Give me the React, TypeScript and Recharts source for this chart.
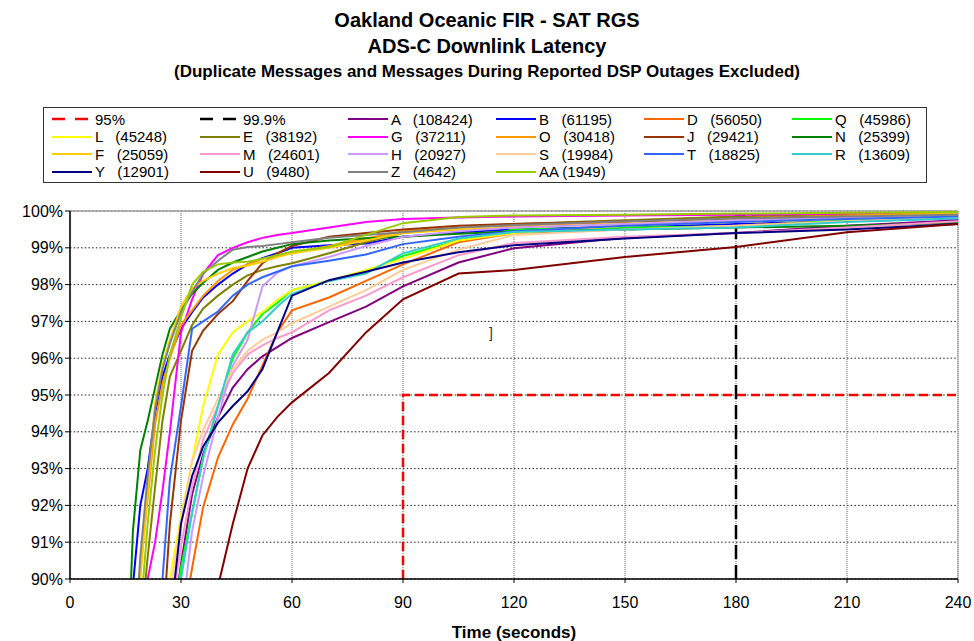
import {
  LineChart,
  Line,
  XAxis,
  YAxis,
  CartesianGrid,
  ReferenceLine,
  ReferenceDot,
} from "recharts";

// Latency in seconds at which each cumulative percentage is read
const TIMES = [15, 17, 19, 21, 23, 25, 27, 30, 33, 36, 40, 44, 48, 52, 56, 60, 70, 80, 90, 105, 120, 150, 180, 210, 240];

// Cumulative % of messages delivered, per ground station
const A = [78, 80, 82, 83.5, 85, 86.5, 88.2, 90.4, 92.3, 93.4, 94.4, 95.2, 95.7, 96.05, 96.3, 96.55, 96.98, 97.4, 97.95, 98.6, 98.99, 99.27, 99.4, 99.6, 99.75];
const B = [84, 89.8, 92.0, 93.0, 94.5, 95.5, 96.1, 96.8, 97.25, 97.65, 98.0, 98.3, 98.55, 98.72, 98.85, 99.0, 99.07, 99.12, 99.3, 99.42, 99.5, 99.58, 99.65, 99.72, 99.8];
const D = [75, 77, 79, 81, 82.5, 84, 85.5, 88.5, 90.3, 91.96, 93.3, 94.2, 94.9, 95.8, 96.7, 97.3, 97.65, 98.1, 98.55, 99.15, 99.4, 99.5, 99.6, 99.75, 99.85];
const Q = [78, 80, 82, 83.5, 85, 86.5, 88.3, 90.3, 91.8, 93.3, 94.7, 96.0, 96.7, 97.2, 97.5, 97.85, 98.1, 98.35, 98.78, 99.2, 99.5, 99.55, 99.58, 99.75, 99.82];
const L = [80, 82, 84, 85.5, 87, 88.5, 90.0, 91.7, 93.2, 94.7, 96.1, 96.7, 97.0, 97.25, 97.58, 97.85, 98.1, 98.4, 98.7, 99.2, 99.4, 99.6, 99.7, 99.78, 99.85];
const E = [82, 85.5, 88.5, 90.6, 92.5, 94.3, 95.5, 96.2, 96.9, 97.35, 97.7, 98.0, 98.25, 98.4, 98.5, 98.58, 98.85, 99.15, 99.4, 99.55, 99.65, 99.75, 99.85, 99.9, 99.95];
const G = [84, 86.5, 88.5, 90.0, 91.0, 92.4, 94.0, 96.7, 97.6, 98.3, 98.8, 99.0, 99.15, 99.27, 99.35, 99.4, 99.55, 99.7, 99.78, 99.82, 99.85, 99.88, 99.9, 99.93, 99.95];
const O = [84, 87.5, 90.2, 92.2, 94.2, 95.3, 96.0, 96.9, 97.3, 97.7, 98.1, 98.4, 98.55, 98.7, 98.8, 98.85, 99.05, 99.25, 99.45, 99.55, 99.6, 99.7, 99.8, 99.88, 99.95];
const J = [74, 77, 80, 83, 85.5, 88.5, 91.5, 94.3, 96.2, 96.75, 97.2, 97.55, 98.1, 98.58, 98.85, 99.05, 99.3, 99.4, 99.5, 99.6, 99.65, 99.72, 99.8, 99.85, 99.9];
const N = [86, 91.3, 93.5, 94.3, 95.2, 96.1, 96.8, 97.3, 97.75, 98.05, 98.4, 98.6, 98.75, 98.9, 99.0, 99.1, 99.2, 99.26, 99.3, 99.38, 99.45, 99.5, 99.55, 99.6, 99.68];
const F = [84, 87.2, 90.0, 92.4, 94.8, 95.8, 96.5, 97.4, 97.9, 98.1, 98.3, 98.45, 98.52, 98.62, 98.75, 98.85, 99.0, 99.2, 99.4, 99.5, 99.55, 99.65, 99.75, 99.85, 99.92];
const M = [77, 79, 81, 83, 84.5, 86, 88.8, 90.9, 92.5, 93.8, 94.7, 95.6, 96.1, 96.35, 96.55, 96.7, 97.3, 97.7, 98.2, 98.8, 99.13, 99.3, 99.4, 99.55, 99.72];
const H = [74, 76, 78, 80, 82, 84, 86, 88.8, 91.3, 92.8, 94.4, 95.8, 96.5, 97.95, 98.32, 98.5, 98.75, 99.05, 99.3, 99.45, 99.55, 99.65, 99.75, 99.82, 99.9];
const S = [78, 80, 82, 84, 85.5, 87, 89.6, 91.6, 93.2, 94.05, 94.9, 95.7, 96.2, 96.5, 96.7, 96.95, 97.4, 97.85, 98.4, 98.95, 99.35, 99.5, 99.6, 99.72, 99.85];
const T = [76, 79, 82, 84.5, 87.5, 90.0, 92.7, 94.7, 96.8, 97.0, 97.27, 97.7, 98.0, 98.2, 98.35, 98.5, 98.65, 98.82, 99.1, 99.3, 99.45, 99.6, 99.7, 99.78, 99.85];
const R = [77, 79, 81, 82.5, 84, 86, 87.8, 90.0, 91.8, 93.3, 94.7, 96.1, 96.7, 97.0, 97.4, 97.75, 98.1, 98.3, 98.85, 99.25, 99.43, 99.5, 99.55, 99.7, 99.8];
const Y = [76, 78, 80, 82, 84, 86, 88.8, 91.5, 92.8, 93.6, 94.25, 94.7, 95.1, 95.7, 96.7, 97.7, 98.12, 98.35, 98.6, 98.88, 99.07, 99.25, 99.4, 99.5, 99.65];
const U = [68, 70, 72, 74, 76, 78, 80, 82.5, 85, 87.5, 89.8, 91.5, 93.0, 93.9, 94.4, 94.8, 95.6, 96.7, 97.6, 98.3, 98.4, 98.75, 99.02, 99.42, 99.65];
const Z = [83, 87.5, 90.6, 92.8, 94.6, 95.7, 96.4, 97.25, 97.8, 98.3, 98.65, 98.95, 99.02, 99.05, 99.1, 99.15, 99.27, 99.35, 99.42, 99.55, 99.62, 99.72, 99.8, 99.85, 99.9];
const AA = [83, 86, 89, 91.5, 93.5, 95.0, 96.1, 97.1, 98.0, 98.35, 98.55, 98.6, 98.62, 98.7, 98.8, 98.9, 99.02, 99.35, 99.67, 99.84, 99.88, 99.9, 99.93, 99.95, 99.97];

const X_TICKS = [0, 30, 60, 90, 120, 150, 180, 210, 240];
const Y_TICKS = [90, 91, 92, 93, 94, 95, 96, 97, 98, 99, 100];

// 95% within 90 s and 99.9% within 180 s requirement steps
const REQ_95 = [
  { t: 90, v: 90 },
  { t: 90, v: 95 },
  { t: 240, v: 95 },
];
const REQ_999 = [
  { t: 180, v: 90 },
  { t: 180, v: 99.9 },
  { t: 240, v: 99.9 },
];

const SERIES = [
  { key: "A", count: 108424, color: "#800080", values: A },
  { key: "B", count: 61195, color: "#0000FF", values: B },
  { key: "D", count: 56050, color: "#FF6600", values: D },
  { key: "Q", count: 45986, color: "#00FF00", values: Q },
  { key: "L", count: 45248, color: "#FFFF00", values: L },
  { key: "E", count: 38192, color: "#808000", values: E },
  { key: "G", count: 37211, color: "#FF00FF", values: G },
  { key: "O", count: 30418, color: "#FF9900", values: O },
  { key: "J", count: 29421, color: "#993300", values: J },
  { key: "N", count: 25399, color: "#008000", values: N },
  { key: "F", count: 25059, color: "#FFCC00", values: F },
  { key: "M", count: 24601, color: "#FF99CC", values: M },
  { key: "H", count: 20927, color: "#CC99FF", values: H },
  { key: "S", count: 19984, color: "#FFCC99", values: S },
  { key: "T", count: 18825, color: "#3366FF", values: T },
  { key: "R", count: 13609, color: "#33CCCC", values: R },
  { key: "Y", count: 12901, color: "#000080", values: Y },
  { key: "U", count: 9480, color: "#800000", values: U },
  { key: "Z", count: 4642, color: "#808080", values: Z },
  { key: "AA", count: 1949, color: "#99CC00", values: AA },
];

const rows = TIMES.map((t, i) => {
  const row: Record<string, number> = { t };
  SERIES.forEach((s) => {
    row[s.key] = s.values[i];
  });
  return row;
});

const FONT = '"Liberation Sans", Arial, sans-serif';

function LegendBox() {
  const entries = [
    { label: "95%", color: "#FF0000", dash: "13 10" },
    { label: "99.9%", color: "#000000", dash: "13 10" },
    ...SERIES.map((s) => ({
      label: `${s.key}${s.key.length > 1 ? " " : "   "}(${s.count})`,
      color: s.color,
      dash: undefined as string | undefined,
    })),
  ];
  return (
    <div
      style={{
        position: "absolute",
        left: 43,
        top: 107,
        width: 884,
        height: 76,
        border: "1px solid #333",
        boxSizing: "border-box",
        background: "#fff",
      }}
    >
      {entries.map((e, i) => {
        const col = i % 6;
        const row = Math.floor(i / 6);
        return (
          <div
            key={e.label}
            style={{
              position: "absolute",
              left: 8 + col * 148,
              top: 2 + row * 17.5,
              height: 18,
              display: "flex",
              alignItems: "center",
              whiteSpace: "pre",
              fontFamily: FONT,
              fontSize: 15,
              color: "#000",
            }}
          >
            <svg width={40} height={6} style={{ display: "block" }}>
              <line
                x1={0}
                y1={3}
                x2={40}
                y2={3}
                stroke={e.color}
                strokeWidth={e.dash ? 2.5 : 2}
                strokeDasharray={e.dash}
              />
            </svg>
            <span style={{ marginLeft: 3 }}>{e.label}</span>
          </div>
        );
      })}
    </div>
  );
}

export default function App() {
  return (
    <div
      style={{
        position: "absolute",
        left: 0,
        top: 0,
        width: 974,
        height: 641,
        background: "#fff",
        fontFamily: FONT,
      }}
    >
      <div style={{ position: "absolute", top: 8, width: 974, textAlign: "center", fontWeight: "bold", fontSize: 20, lineHeight: "24px" }}>
        Oakland Oceanic FIR - SAT RGS
      </div>
      <div style={{ position: "absolute", top: 34, width: 974, textAlign: "center", fontWeight: "bold", fontSize: 20, lineHeight: "24px" }}>
        ADS-C Downlink Latency
      </div>
      <div style={{ position: "absolute", top: 62, width: 974, textAlign: "center", fontWeight: "bold", fontSize: 17, lineHeight: "20px" }}>
        (Duplicate Messages and Messages During Reported DSP Outages Excluded)
      </div>

      <LegendBox />

      <div style={{ position: "absolute", left: 0, top: 0 }}>
        <LineChart
          width={974}
          height={641}
          data={rows}
          margin={{ top: 211, right: 16, bottom: 0, left: 8 }}
        >
          <CartesianGrid horizontal vertical={false} stroke="#222" strokeDasharray="1.5 2.2" />
          <CartesianGrid horizontal={false} vertical stroke="#666" strokeDasharray="1 1" />
          <XAxis
            dataKey="t"
            type="number"
            domain={[0, 240]}
            ticks={X_TICKS}
            interval={0}
            height={62}
            tickSize={4}
            tickMargin={14}
            axisLine={{ stroke: "#000", strokeWidth: 1.5 }}
            tickLine={{ stroke: "#000" }}
            tick={{ fill: "#000", fontSize: 16, fontFamily: FONT }}
            label={{
              value: "Time (seconds)",
              position: "insideBottom",
              offset: 3,
              fill: "#000",
              fontSize: 17,
              fontWeight: "bold",
              fontFamily: FONT,
            }}
          />
          <YAxis
            type="number"
            domain={[90, 100]}
            allowDataOverflow
            ticks={Y_TICKS}
            interval={0}
            width={62}
            tickSize={5}
            tickMargin={2}
            tickFormatter={(v: number) => `${v}%`}
            axisLine={{ stroke: "#000", strokeWidth: 1.5 }}
            tickLine={{ stroke: "#000" }}
            tick={{ fill: "#000", fontSize: 16, fontFamily: FONT }}
          />
          <ReferenceLine y={100} stroke="#a0a0a0" strokeWidth={1.5} />
          <ReferenceLine x={240} stroke="#a0a0a0" strokeWidth={1} />

          <Line
            data={REQ_95}
            dataKey="v"
            stroke="#FF0000"
            strokeWidth={2.5}
            strokeDasharray="9 5"
            dot={false}
            activeDot={false}
            isAnimationActive={false}
          />
          <Line
            data={REQ_999}
            dataKey="v"
            stroke="#000000"
            strokeWidth={2.5}
            strokeDasharray="14 6"
            dot={false}
            activeDot={false}
            isAnimationActive={false}
          />
          {SERIES.map((s) => (
            <Line
              key={s.key}
              dataKey={s.key}
              stroke={s.color}
              strokeWidth={2}
              dot={false}
              activeDot={false}
              isAnimationActive={false}
            />
          ))}
          <ReferenceDot
            x={113.8}
            y={96.68}
            r={1}
            fill="none"
            stroke="none"
            label={{ value: "]", position: "center", fill: "#333", fontSize: 14, fontFamily: FONT }}
          />
        </LineChart>
      </div>
    </div>
  );
}
